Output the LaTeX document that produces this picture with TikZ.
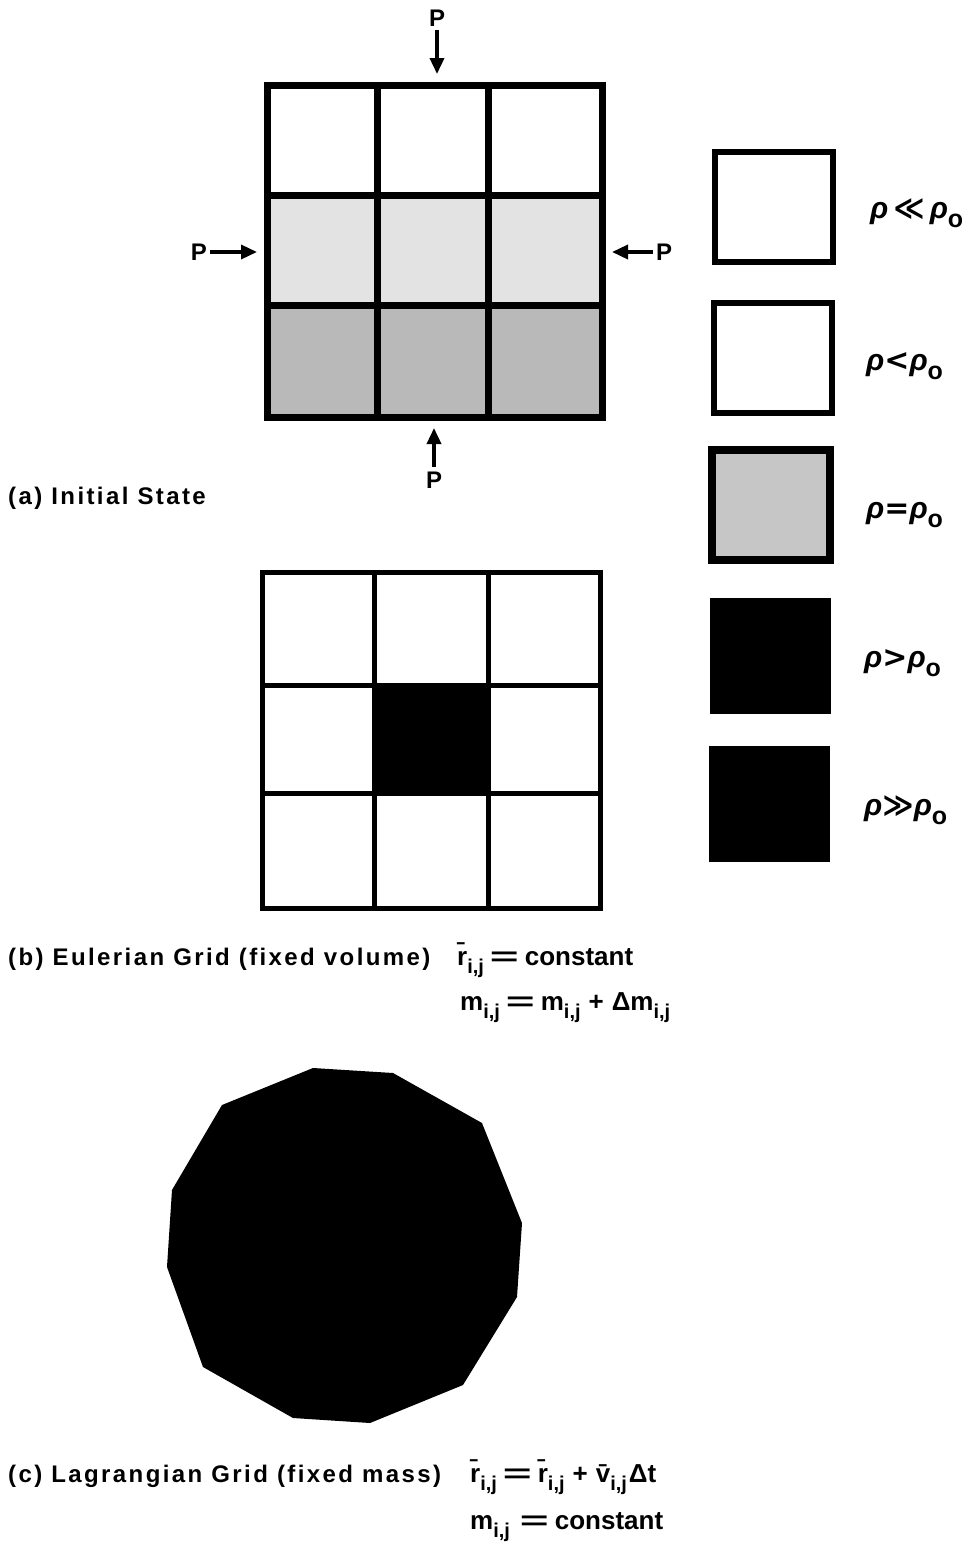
\documentclass[tikz,border=0pt]{standalone}
\usepackage{fontspec}
\setmainfont{Liberation Sans}
\newfontfamily\labfont[LetterSpace=10]{Liberation Sans}
\newfontfamily\symfont{DejaVu Sans}
\usetikzlibrary{arrows.meta}
\tikzset{
  thickgrid/.style={line width=7pt, line join=miter},
  thingrid/.style={line width=5pt, line join=miter},
  parrow/.style={line width=3.5pt, -{Triangle[length=16pt,width=14pt]}},
  ptext/.style={font=\bfseries\fontsize{24}{26}\selectfont, inner sep=0pt},
  caption/.style={font=\labfont\bfseries\fontsize{24}{27}\selectfont, inner sep=0pt, anchor=base west},
  formula/.style={font=\bfseries\fontsize{26}{28}\selectfont, inner sep=0pt, anchor=base west},
  legendtext/.style={font=\bfseries\fontsize{30}{32}\selectfont, inner sep=0pt, anchor=west},
  legbox/.style={draw, line width=6pt, minimum width=118pt, minimum height=110pt, inner sep=0pt},
  darkbox/.style={fill=black, draw=black, line width=1pt, minimum width=120pt, minimum height=115pt, inner sep=0pt}
}
\newcommand{\sbs}[1]{\raisebox{-0.32em}{\fontsize{20}{20}\selectfont #1}}
\newcommand{\lsb}[1]{\raisebox{-0.3em}{\fontsize{25}{25}\selectfont #1}}
\newcommand{\weq}{\kern6pt\scalebox{1.9}[1]{=}\kern6pt}
\newcommand{\wplus}{\kern8pt+\kern8pt}
\newcommand{\rhoi}{\textit{ρ}}
\begin{document}
\begin{tikzpicture}[x=1pt,y=-1pt]
\useasboundingbox[fill=white] (0,0) rectangle (969,1545);

% ---------- (a) initial state grid ----------
\fill[gray!22] (267,195) rectangle (602,305);
\fill[gray!55] (267,305) rectangle (602,417);
\node[thickgrid, draw, minimum width=335pt, minimum height=332pt, inner sep=0pt] (gA) at (434.5,251) {};
\draw[thickgrid] (377,85) -- (377,417);
\draw[thickgrid] (488,85) -- (488,417);
\draw[thickgrid] (267,195) -- (602,195);
\draw[thickgrid] (267,305) -- (602,305);

% pressure arrows
\node[ptext] (Ptop) at (437,18) {P};
\node[ptext] (Pbot) at (434,480) {P};
\node[ptext] (Pleft) at (199,252) {P};
\node[ptext] (Pright) at (664,252) {P};
\coordinate (tT) at (437,74);
\coordinate (tB) at (434,428);
\coordinate (tL) at (257,252);
\coordinate (tR) at (612,252);
\draw[parrow] (Ptop.south) ++(0,4) -- (tT);
\draw[parrow] (Pbot.north) ++(0,-5) -- (tB);
\draw[parrow] (Pleft.east) ++(3,0) -- (tL);
\draw[parrow] (Pright.west) ++(-3,0) -- (tR);

\node[caption] (capA) at (8,504) {(a) Initial State};

% ---------- legend ----------
\node[legbox] (L1) at (774,207) {};
\node[legbox] (L2) at (773,358) {};
\node[legbox, fill=gray!45, line width=8pt] (L3) at (771,504.5) {};
\node[darkbox] (L4) at (770,655.5) {};
\node[darkbox] (L5) at (769,803.5) {};

\node[legendtext] (T1) at (870,213) {\rhoi\,{\symfont\bfseries ≪}\,\rhoi\lsb{o}};
\node[legendtext] (T2) at (866,366) {\rhoi{\symfont\bfseries <}\rhoi\lsb{o}};
\node[legendtext] (T3) at (866,515) {\rhoi{\symfont\bfseries =}\rhoi\lsb{o}};
\node[legendtext] (T4) at (864,663) {\rhoi{\symfont\bfseries >}\rhoi\lsb{o}};
\node[legendtext] (T5) at (864,810) {\rhoi{\symfont\bfseries ≫}\rhoi\lsb{o}};

% ---------- (b) Eulerian grid ----------
\fill[black] (374,685) rectangle (488,793);
\node[thingrid, draw, minimum width=338pt, minimum height=336pt, inner sep=0pt] (gB) at (431,740) {};
\draw[thingrid] (374,572) -- (374,908);
\draw[thingrid] (488,572) -- (488,908);
\draw[thingrid] (262,685) -- (600,685);
\draw[thingrid] (262,793) -- (600,793);

\node[caption] (capB) at (8,965) {(b) Eulerian Grid (fixed volume)};
\node[formula] (fB1) at (457,965) {\={r}\sbs{i,j}\weq constant};
\node[formula] (fB2) at (460,1010) {m\sbs{i,j}\weq m\sbs{i,j}\wplus Δm\sbs{i,j}};

% ---------- (c) Lagrangian grid ----------
\fill[black] (313,1068) -- (393,1073) -- (482,1123) -- (522,1223) -- (517,1297)
  -- (463,1385) -- (370,1423) -- (293,1418) -- (203,1367) -- (167,1267)
  -- (172,1190) -- (222,1105) -- cycle;

\node[caption] (capC) at (8,1482) {(c) Lagrangian Grid (fixed mass)};
\node[formula] (fC1) at (470,1482) {\={r}\sbs{i,j}\weq\={r}\sbs{i,j}\wplus\={v}\sbs{i,j}\kern2ptΔt};
\node[formula] (fC2) at (470,1529) {m\sbs{i,j}\kern4pt\weq constant};
\end{tikzpicture}
\end{document}
